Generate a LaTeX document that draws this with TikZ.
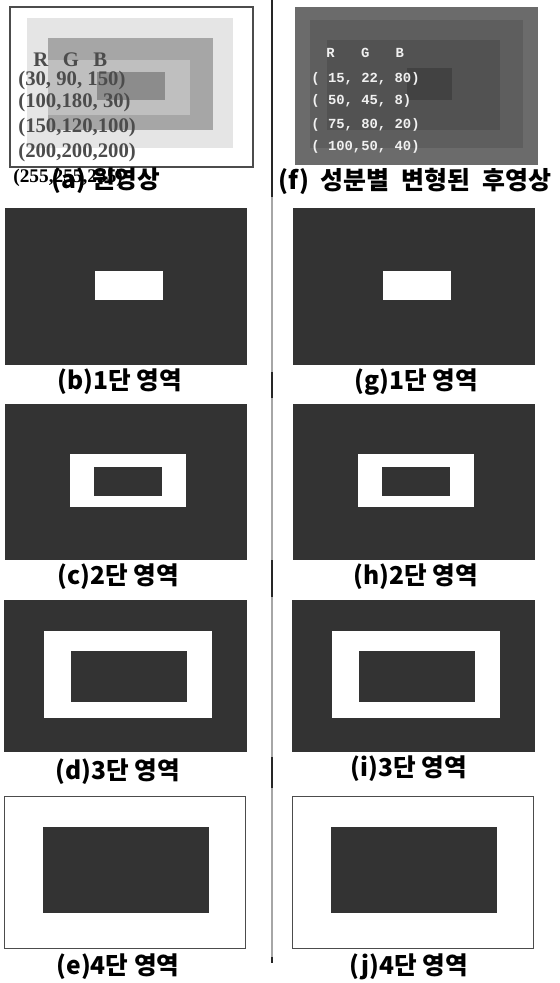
\documentclass[tikz,border=0pt]{standalone}
\usepackage{fontspec}
\setmainfont{Liberation Serif}
\newfontfamily\kr{Noto Sans CJK KR}
\newfontfamily\rgbmono{Liberation Mono}
\begin{document}
\begin{tikzpicture}[x=0.02cm, y=-0.02cm,
    panel/.style={fill=black!80},
    hole/.style={fill=white},
    captxt/.style={font=\kr\bfseries\fontsize{14}{16}\selectfont, inner sep=0pt},
    rgbsrc/.style={font=\bfseries\fontsize{11.8}{13}\selectfont, text=black!70, inner sep=0pt, anchor=west},
    rgbout/.style={font=\rgbmono\bfseries\fontsize{7.9}{9}\selectfont, text=black!6, inner sep=0pt, anchor=west}]
  \useasboundingbox (0,0) rectangle (559,983);
  % original image
  \draw[black!70, line width=0.6pt] (10,7) rectangle (253,167);
  \fill[black!10] (27,18) rectangle (233,148);
  \fill[black!35] (48,38) rectangle (213,130);
  \fill[black!25] (48,60) rectangle (190,115);
  \fill[black!45] (97,72) rectangle (165,100);
  \node[rgbsrc] (srcR) at (33,60) {R\hspace{0.7em}G\hspace{0.7em}B};
  \node[rgbsrc] (src1) at (18,81) {(30, 90, 150)};
  \node[rgbsrc] (src2) at (18,103) {(100,180, 30)};
  \node[rgbsrc] (src3) at (18,128) {(150,120,100)};
  \node[rgbsrc] (src4) at (18,153) {(200,200,200)};
  \node[rgbsrc, text=black, font=\bfseries\fontsize{11}{12}\selectfont] (src5) at (13,178) {(255,255,255)};
  % transformed image
  \fill[black!58] (295,7) rectangle (538,165);
  \fill[black!63] (310,20) rectangle (523,148);
  \fill[black!68] (327,40) rectangle (500,130);
  \fill[black!74] (407,68) rectangle (452,100);
  \node[rgbout] (outR) at (326,53) {R\hspace{1.9em}G\hspace{1.9em}B};
  \node[rgbout] (out1) at (311,79) {( 15, 22, 80)};
  \node[rgbout] (out2) at (311,101) {( 50, 45, 8)};
  \node[rgbout] (out3) at (311,125) {( 75, 80, 20)};
  \node[rgbout] (out4) at (311,147) {( 100,50, 40)};
  % region masks
  \foreach \dx in {0,288} {
    \fill[panel] (5+\dx,208) rectangle (247+\dx,365);
    \fill[hole] (95+\dx,271) rectangle (163+\dx,300);
    \fill[panel] (5+\dx,404) rectangle (247+\dx,560);
    \fill[hole] (70+\dx,454) rectangle (186+\dx,507);
    \fill[panel] (94+\dx,467) rectangle (162+\dx,496);
    \fill[panel] (4+\dx,600) rectangle (247+\dx,752);
    \fill[hole] (44+\dx,631) rectangle (212+\dx,718);
    \fill[panel] (71+\dx,651) rectangle (187+\dx,702);
    \draw[black!70, line width=0.5pt] (4+\dx,796) rectangle (245+\dx,948);
    \fill[panel] (43+\dx,827) rectangle (209+\dx,913);
  }
  % divider
  \draw[black!35, line width=0.7pt] (272,0) -- (272,963);
  \foreach \a/\b in {0/197, 372/398, 560/597, 757/788, 957/963}
    \draw[black!85, line width=1.6pt] (272,\a) -- (272,\b);
  % captions
  \node[captxt] (capA) at (106,181) {(a) 원영상};
  \node[captxt, font=\kr\bfseries\fontsize{14.2}{16}\selectfont] (capF) at (415,181) {(f)\hspace{0.45em}성분별\hspace{0.5em}변형된\hspace{0.5em}후영상};
  \node[captxt] (capB) at (120,382) {(b)1단 영역};
  \node[captxt] (capG) at (416,382) {(g)1단 영역};
  \node[captxt] (capC) at (118,577) {(c)2단 영역};
  \node[captxt] (capH) at (416,577) {(h)2단 영역};
  \node[captxt] (capD) at (118,772) {(d)3단 영역};
  \node[captxt] (capI) at (409,769) {(i)3단 영역};
  \node[captxt] (capE) at (118,967) {(e)4단 영역};
  \node[captxt] (capJ) at (409,967) {(j)4단 영역};
\end{tikzpicture}
\end{document}
